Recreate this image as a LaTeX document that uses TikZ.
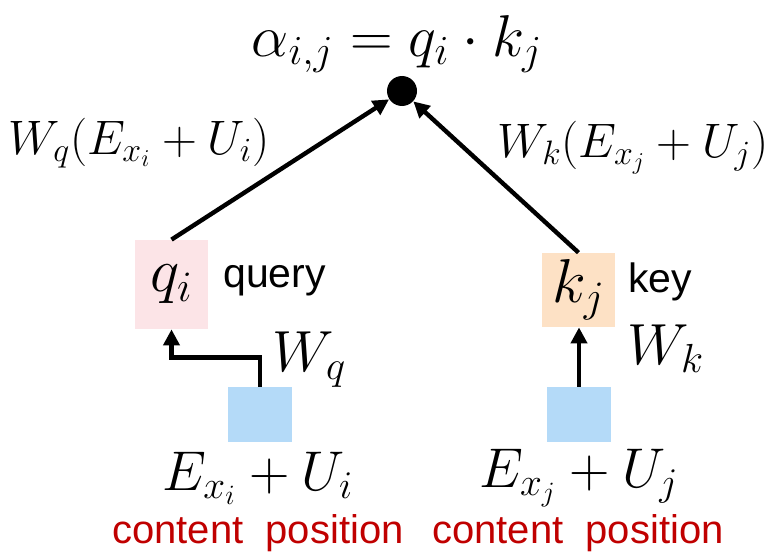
\RequirePackage{fix-cm}
\documentclass[tikz,border=0pt]{standalone}
\usepackage{fontspec}
\newfontfamily\labelfont{Liberation Sans}
\usetikzlibrary{arrows.meta}
\definecolor{qpink}{RGB}{252,228,231}
\definecolor{kpeach}{RGB}{253,225,197}
\definecolor{embblue}{RGB}{180,218,248}
\definecolor{tagred}{RGB}{192,0,0}
\tikzset{
  bigmath/.style={inner sep=0pt, font=\fontsize{29.5}{34}\selectfont},
  projmath/.style={inner sep=0pt, font=\fontsize{24.2}{29}\selectfont},
  wmath/.style={inner sep=0pt, font=\fontsize{29}{34}\selectfont},
  summath/.style={inner sep=0pt, font=\fontsize{28}{33}\selectfont},
  vecbox/.style={rectangle, inner sep=0pt, minimum width=36.5pt,
    font=\fontsize{31}{36}\selectfont},
  embbox/.style={rectangle, fill=embblue, minimum width=32pt,
    minimum height=27.5pt, inner sep=0pt},
  dotnode/.style={circle, fill=black, minimum size=15pt, inner sep=0pt},
  sidetext/.style={inner sep=0pt, font=\labelfont\fontsize{20.5}{24}\selectfont},
  tagtext/.style={inner sep=0pt, text=tagred,
    font=\labelfont\fontsize{20}{24}\selectfont},
  arrow/.style={-{Triangle[length=8pt, width=8pt]}, line width=2.2pt}
}
\begin{document}
\begin{tikzpicture}[x=0.5pt, y=-0.5pt]
  \useasboundingbox (0,0) rectangle (769,551);

  % attention score
  \node[bigmath] (score) at (397,44) {$\alpha_{i,j} = q_i \cdot k_j$};
  \node[dotnode] (dot) at (402,91) {};

  % query branch (left)
  \node[vecbox, fill=qpink, minimum height=44.5pt] (q) at (171.5,284.5) {$q_i$};
  \node[sidetext, anchor=base west] (qtag) at (223,287) {query};
  \node[embbox] (embq) at (260,414.5) {};
  \node[wmath, anchor=base west] (wq) at (272,371) {$W_q$};
  \node[summath] (sumq) at (258,478) {$E_{x_i} + U_i$};
  \node[tagtext, anchor=base] (tagq) at (258,543) {content\ \ position};
  \node[projmath] (projq) at (139,143) {$W_q(E_{x_i} + U_i)$};

  % key branch (right)
  \node[vecbox, fill=kpeach, minimum height=37pt] (k) at (578.5,290) {$k_j$};
  \node[sidetext, anchor=base west] (ktag) at (628,292) {key};
  \node[embbox] (embk) at (579,414.5) {};
  \node[wmath, anchor=base west] (wk) at (627,364) {$W_k$};
  \node[summath] (sumk) at (579,478) {$E_{x_j} + U_j$};
  \node[tagtext, anchor=base] (tagk) at (578,543) {content\ \ position};
  \node[projmath] (projk) at (633,148) {$W_k(E_{x_j} + U_j)$};

  % connections
  \draw[arrow] (embq.north) -- ++(0,-29) -| (q.south);
  \draw[arrow] (embk.north) -- (k.south -| embk.north);
  \draw[arrow] (q.north) -- (dot);
  \draw[arrow] (k.north) -- (dot);
\end{tikzpicture}
\end{document}
